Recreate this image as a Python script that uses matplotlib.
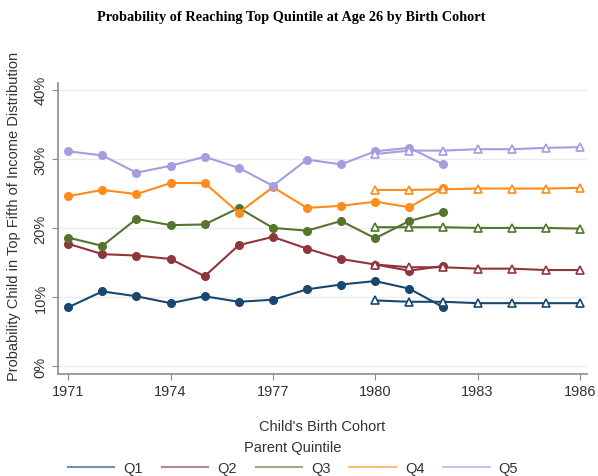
import matplotlib
matplotlib.use("Agg")
import matplotlib.pyplot as plt
from matplotlib.lines import Line2D

plt.rcParams["font.family"] = ["Liberation Sans", "DejaVu Sans"]

# ------------------------------------------------------------------
# Data
# ------------------------------------------------------------------
years_obs = [1971, 1972, 1973, 1974, 1975, 1976, 1977, 1978, 1979, 1980, 1981, 1982]
years_pred = [1980, 1981, 1982, 1983, 1984, 1985, 1986]

q1_obs = [8.5, 10.8, 10.1, 9.1, 10.1, 9.3, 9.6, 11.1, 11.8, 12.3, 11.2, 8.5]
q2_obs = [17.7, 16.2, 16.0, 15.5, 13.0, 17.5, 18.7, 17.0, 15.5, 14.7, 13.8, 14.5]
q3_obs = [18.6, 17.4, 21.3, 20.4, 20.5, 22.9, 20.0, 19.6, 21.0, 18.5, 21.0, 22.3]
q4_obs = [24.6, 25.5, 24.9, 26.5, 26.5, 22.2, 25.9, 22.9, 23.2, 23.8, 23.0, 25.8]
q5_obs = [31.1, 30.5, 28.0, 29.0, 30.3, 28.7, 26.1, 29.9, 29.2, 31.1, 31.6, 29.2]

q1_pred = [9.5, 9.3, 9.3, 9.1, 9.1, 9.1, 9.1]
q2_pred = [14.7, 14.3, 14.3, 14.1, 14.1, 13.9, 13.9]
q3_pred = [20.1, 20.1, 20.1, 20.0, 20.0, 20.0, 19.9]
q4_pred = [25.5, 25.5, 25.6, 25.7, 25.7, 25.7, 25.8]
q5_pred = [30.7, 31.2, 31.2, 31.4, 31.4, 31.6, 31.7]

labels = ["Q1", "Q2", "Q3", "Q4", "Q5"]
colors = ["#1a476f", "#90353b", "#55752f", "#ff8c1a", "#a99be0"]

xticks = [1971, 1974, 1977, 1980, 1983, 1986]
yticks = [0, 10, 20, 30, 40]

# ------------------------------------------------------------------
# Figure
# ------------------------------------------------------------------
fig = plt.figure(figsize=(5.98, 4.77), dpi=100)
ax = fig.add_axes([0.097, 0.214, 0.884, 0.610])

obs = [q1_obs, q2_obs, q3_obs, q4_obs, q5_obs]
pred = [q1_pred, q2_pred, q3_pred, q4_pred, q5_pred]

for o, p, c in zip(obs, pred, colors):
    ax.plot(years_obs, o, color=c, lw=1.5, marker="o", ms=5.5, zorder=3)
    ax.plot(years_pred, p, color=c, lw=1.5, marker="^", ms=6,
            mfc="white", mec=c, mew=1.2, zorder=3)

ax.set_xlim(1970.7, 1986.2)
ax.set_ylim(-1.15, 41)
ax.set_xticks(xticks)
ax.set_yticks(yticks)
ax.set_yticklabels([f"{v}%" for v in yticks], rotation=90, va="center")
ax.grid(axis="y", color="#ececec", lw=1)
ax.set_axisbelow(True)

for s in ["top", "right"]:
    ax.spines[s].set_visible(False)
for s in ["left", "bottom"]:
    ax.spines[s].set_color("#8c8c8c")
    ax.spines[s].set_linewidth(1.2)
ax.tick_params(colors="#8c8c8c", labelcolor="#333333", labelsize=10.5, length=4)

ax.set_xlabel("Child's Birth Cohort", fontsize=10.5, color="#333333", labelpad=15)
ax.set_ylabel("Probability Child in Top Fifth of Income Distribution",
              fontsize=10.5, color="#333333", labelpad=6)
ax.yaxis.set_label_coords(-0.07, 0.545)

fig.text(0.487, 0.963, "Probability of Reaching Top Quintile at Age 26 by Birth Cohort",
         ha="center", va="center", family="Liberation Serif", weight="bold",
         fontsize=10.3)

handles = [Line2D([0], [0], color=c, lw=1.5, alpha=0.6) for c in colors]
leg = fig.legend(handles, labels, loc="center", bbox_to_anchor=(0.49, 0.039),
                 ncol=5, frameon=False, fontsize=10.5, handlelength=3.2,
                 columnspacing=1.3, handletextpad=0.6,
                 title="Parent Quintile", title_fontsize=10.5)
for t in leg.get_texts():
    t.set_color("#333333")
leg.get_title().set_color("#333333")

fig.savefig("out.png", dpi=100)
